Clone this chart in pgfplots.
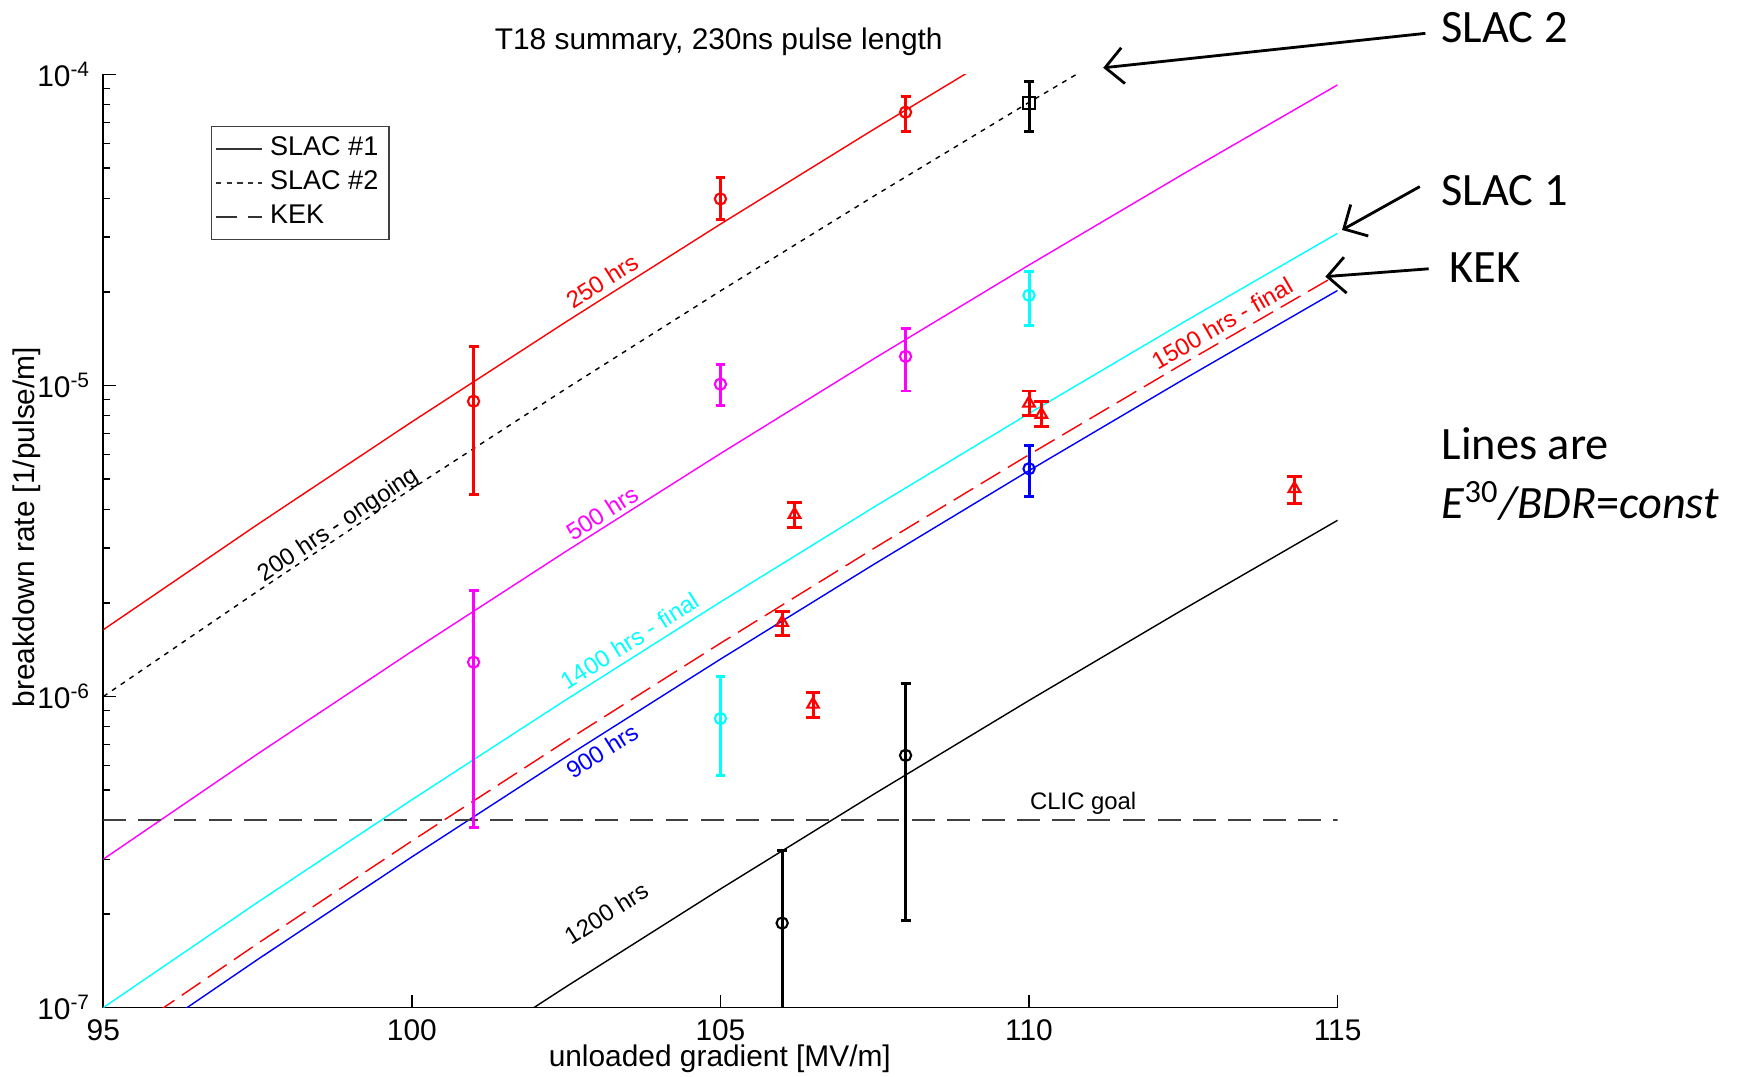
\documentclass[border=0pt]{standalone}
\usepackage{fontspec}
\setmainfont{Liberation Sans}
\newfontfamily\carlito{Carlito}
\usepackage{pgfplots}
\pgfplotsset{compat=1.18}
\usetikzlibrary{arrows.meta}

\definecolor{mred}{RGB}{255,0,0}
\definecolor{mmag}{RGB}{255,0,255}
\definecolor{mcyan}{RGB}{0,255,255}
\definecolor{mblue}{RGB}{0,0,255}

\newcommand\fs[2]{\fontsize{#1}{#2}\selectfont}

\pgfplotsset{
  eb/.style={error bars/.cd, y dir=both, y explicit,
    error bar style={line width=0.85pt},
    error mark options={rotate=90, mark size=#1, line width=0.85pt}},
  pts/.style={only marks, mark size=1.6pt, mark options={solid, line width=0.6pt}, forget plot},
  fit/.style={line width=0.4pt, forget plot},
}

\begin{document}
\begin{tikzpicture}
\begin{axis}[
  at={(0,0)}, anchor=south west,
  scale only axis, width=12.343cm, height=9.332cm,
  xmin=95, xmax=115,
  ymode=log, ymin=1e-7, ymax=1e-4,
  axis lines*=left, axis line style={-, line width=0.5pt},
  tick align=inside,
  xtick={95,100,105,110,115}, xticklabels={95,100,105,110,115},
  ytick={1e-7,1e-6,1e-5,1e-4},
  yticklabels={10\textsuperscript{-7},10\textsuperscript{-6},10\textsuperscript{-5},10\textsuperscript{-4}},
  minor ytick={2e-7,3e-7,4e-7,5e-7,6e-7,7e-7,8e-7,9e-7,
               2e-6,3e-6,4e-6,5e-6,6e-6,7e-6,8e-6,9e-6,
               2e-5,3e-5,4e-5,5e-5,6e-5,7e-5,8e-5,9e-5},
  tick style={black, line width=0.4pt},
  major tick length=0.13cm, minor tick length=0.07cm,
  tick label style={font=\fs{8.5}{10}},
  clip mode=individual,
  legend style={at={(rel axis cs:0.0873,0.9452)}, anchor=north west,
    draw=black!75, font=\fs{7.7}{9}, inner sep=1pt, row sep=-1.2pt},
  legend cell align=left,
  legend image code/.code={\draw[#1] (0cm,0cm) -- (0.46cm,0cm);},
]
\addlegendimage{black!80, line width=0.5pt}
\addlegendentry{SLAC \#1}
\addlegendimage{black!80, line width=0.5pt, dash pattern=on 1.5pt off 1.5pt}
\addlegendentry{SLAC \#2}
\addlegendimage{black!80, line width=0.5pt, dash pattern=on 6pt off 3pt}
\addlegendentry{KEK}

% E^30/BDR = const lines
\addplot[fit, mred] coordinates {
  (95,1.64e-6) (97.5,3.575e-6) (100,7.641e-6) (102.5,1.6026e-5)
  (105,3.302e-5) (107.5,6.689e-5) (110,1.3333e-4) (112.5,2.617e-4)};
\addplot[fit, black, dash pattern=on 1.4pt off 1.6pt] coordinates {
  (95,1e-6) (97.5,2.18e-6) (100,4.659e-6) (102.5,9.772e-6)
  (105,2.0136e-5) (107.5,4.0787e-5) (110,8.13e-5) (112.5,1.5955e-4)};
\addplot[fit, mmag] coordinates {
  (95,3.0e-7) (97.5,6.54e-7) (100,1.3977e-6) (102.5,2.9316e-6)
  (105,6.041e-6) (107.5,1.2236e-5) (110,2.4389e-5) (112.5,4.7865e-5) (115,9.256e-5)};
\addplot[fit, mcyan] coordinates {
  (95,1.0e-7) (97.5,2.18e-7) (100,4.659e-7) (102.5,9.772e-7)
  (105,2.0136e-6) (107.5,4.0787e-6) (110,8.13e-6) (112.5,1.5955e-5) (115,3.0853e-5)};
\addplot[fit, mred, dash pattern=on 6.5pt off 2.5pt] coordinates {
  (95,7.37e-8) (97.5,1.6066e-7) (100,3.4337e-7) (102.5,7.202e-7)
  (105,1.484e-6) (107.5,3.006e-6) (110,5.9915e-6) (112.5,1.1759e-5) (115,2.2739e-5)};
\addplot[fit, mblue] coordinates {
  (95,6.55e-8) (97.5,1.4279e-7) (100,3.0516e-7) (102.5,6.4006e-7)
  (105,1.3189e-6) (107.5,2.6715e-6) (110,5.3249e-6) (112.5,1.0451e-5) (115,2.0209e-5)};
\addplot[fit, black] coordinates {
  (95,1.195e-8) (97.5,2.605e-8) (100,5.567e-8) (102.5,1.1677e-7)
  (105,2.4063e-7) (107.5,4.874e-7) (110,9.715e-7) (112.5,1.9066e-6) (115,3.6869e-6)};
% CLIC goal
\addplot[fit, black!75, line width=0.6pt, dash pattern=on 6.5pt off 3.5pt] coordinates {(95,4e-7) (115,4e-7)};

% measured points
\addplot[pts, mred, mark=o, eb=1.4pt] coordinates {
  (101,8.9e-6) += (0,4.4e-6) -= (0,4.43e-6)
  (105,3.98e-5) += (0,6.7e-6) -= (0,5.7e-6)
  (108,7.56e-5) += (0,9.2e-6) -= (0,9.9e-6)};
\addplot[pts, black, mark=square, mark size=1.7pt, eb=1.4pt] coordinates {
  (110,8.07e-5) += (0,1.43e-5) -= (0,1.5e-5)};
\addplot[pts, mmag, mark=o, eb=1.4pt] coordinates {
  (101,1.29e-6) += (0,9.1e-7) -= (0,9.11e-7)
  (105,1.01e-5) += (0,1.6e-6) -= (0,1.48e-6)
  (108,1.24e-5) += (0,2.8e-6) -= (0,2.8e-6)};
\addplot[pts, mcyan, mark=o, eb=1.4pt] coordinates {
  (110,1.95e-5) += (0,3.8e-6) -= (0,3.9e-6)
  (105,8.5e-7) += (0,3.1e-7) -= (0,2.92e-7)};
\addplot[pts, mblue, mark=o, eb=1.4pt] coordinates {
  (110,5.4e-6) += (0,1.01e-6) -= (0,1.0e-6)};
\addplot[pts, black, mark=o, eb=1.4pt] coordinates {
  (106,1.87e-7) += (0,1.32e-7) -= (0,1.32e-7)
  (108,6.47e-7) += (0,4.53e-7) -= (0,4.57e-7)};
\addplot[pts, mred, mark=triangle, mark size=1.9pt, eb=2.1pt] coordinates {
  (106.2,3.85e-6) += (0,3.7e-7) -= (0,3.6e-7)
  (106.0,1.73e-6) += (0,1.5e-7) -= (0,1.6e-7)
  (106.5,9.44e-7) += (0,8.6e-8) -= (0,8.9e-8)
  (110.0,8.77e-6) += (0,8.3e-7) -= (0,7.7e-7)
  (110.2,8.07e-6) += (0,8.3e-7) -= (0,6.9e-7)
  (114.3,4.66e-6) += (0,4.4e-7) -= (0,4.8e-7)};

% line labels
\begin{scope}[every node/.style={font=\fs{6.8}{8}, inner sep=0pt}]
\node[mred, rotate=32.5] at (rel axis cs:0.4041,0.7786) {250 hrs};
\node[black, rotate=33.6] at (rel axis cs:0.1908,0.5167) {200 hrs - ongoing};
\node[mmag, rotate=32.5] at (rel axis cs:0.4041,0.5298) {500 hrs};
\node[mcyan, rotate=32.4] at (rel axis cs:0.4266,0.3929) {1400 hrs - final};
\node[mblue, rotate=32.5] at (rel axis cs:0.4041,0.2750) {900 hrs};
\node[black, rotate=32.4] at (rel axis cs:0.4077,0.1012) {1200 hrs};
\node[mred, rotate=30.1] at (rel axis cs:0.9064,0.7333) {1500 hrs - final};
\node[black] at (rel axis cs:0.7939,0.2190) {CLIC goal};
\end{scope}

% title and axis labels
\node[font=\fs{8.5}{10}] at (rel axis cs:0.4986,1.0345) {T18 summary, 230ns pulse length};
\node[font=\fs{8.5}{10}] at (rel axis cs:0.4995,-0.0548) {unloaded gradient [MV/m]};
\node[font=\fs{8.5}{10}, rotate=90] at (rel axis cs:-0.0621,0.515) {breakdown rate [1/pulse/m]};

% annotations on the right
\begin{scope}[every node/.style={font=\carlito\fs{13.2}{16}, anchor=west, inner sep=0pt}]
\node at (rel axis cs:1.0837,1.050) {SLAC 2};
\node at (rel axis cs:1.0837,0.875) {SLAC 1};
\node at (rel axis cs:1.0900,0.7929) {KEK};
\node at (rel axis cs:1.0837,0.6048) {Lines are};
\node at (rel axis cs:1.0837,0.5429) {\textit{E}\textsuperscript{30}\textit{/BDR}=\textit{const}};
\end{scope}
\begin{scope}[line width=0.8pt, -{Straight Barb[length=1.8mm,width=3.6mm,line width=0.8pt]}]
\draw (rel axis cs:1.0711,1.0440) -- (rel axis cs:0.8101,1.0071);
\draw (rel axis cs:1.0666,0.8798) -- (rel axis cs:1.0036,0.8333);
\draw (rel axis cs:1.0738,0.7917) -- (rel axis cs:0.9901,0.7833);
\end{scope}
\end{axis}
\pgfresetboundingbox
\path[use as bounding box] (-1.033cm,-0.689cm) rectangle (16.387cm,10.076cm);
\end{tikzpicture}
\end{document}
